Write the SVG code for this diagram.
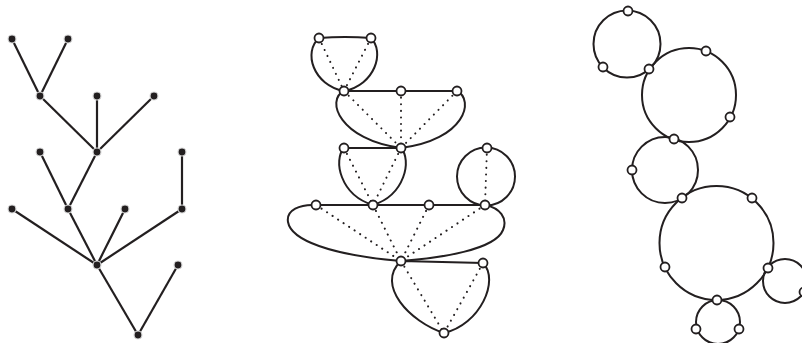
<svg xmlns="http://www.w3.org/2000/svg" width="802" height="343" viewBox="0 0 802 343">
<style>
.e{stroke:#231f20;stroke-width:2.2;fill:none}
.c{stroke:#231f20;stroke-width:2;fill:none}
.d{stroke:#231f20;stroke-width:2;fill:none;stroke-dasharray:0.1 6.5;stroke-linecap:round}
.b{fill:#231f20;stroke:#dddddd;stroke-width:1.2}
.w{fill:#ffffff;stroke:#231f20;stroke-width:1.8}
</style>
<rect width="802" height="343" fill="#ffffff"/>
<g id="connectors">
<g id="tree-edges">
<line class="e" x1="12" y1="39" x2="40" y2="96"/>
<line class="e" x1="68" y1="39" x2="40" y2="96"/>
<line class="e" x1="40" y1="96" x2="97" y2="152"/>
<line class="e" x1="97" y1="96" x2="97" y2="152"/>
<line class="e" x1="154" y1="96" x2="97" y2="152"/>
<line class="e" x1="40" y1="152" x2="68" y2="209"/>
<line class="e" x1="97" y1="152" x2="68" y2="209"/>
<line class="e" x1="182" y1="152" x2="182" y2="209"/>
<line class="e" x1="12" y1="209" x2="97" y2="265"/>
<line class="e" x1="68" y1="209" x2="97" y2="265"/>
<line class="e" x1="125" y1="209" x2="97" y2="265"/>
<line class="e" x1="182" y1="209" x2="97" y2="265"/>
<line class="e" x1="97" y1="265" x2="138" y2="335"/>
<line class="e" x1="178" y1="265" x2="138" y2="335"/>
</g>
<g id="blob-edges">
<path class="c" d="M319,38 Q345,36 371,38 C385,52 375,85 344,91 C313,85 303,52 319,38 Z"/>
<path class="c" d="M344,91 L457,91 C475,100 465,140 401,148 C340,140 325,100 344,91 Z"/>
<path class="c" d="M344,148 L401,148 C412,160 405,195 373,205 C340,195 333,160 344,148 Z"/>
<circle class="c" cx="486" cy="176.5" r="29"/>
<path class="c" d="M316,205 L485,205 C500,208 508,218 503,230 C495,250 440,258 401,261 C330,255 291,240 288,222 C286,210 300,204 316,205 Z"/>
<path class="c" d="M401,261 L483,263 C500,280 480,325 444,333 C410,322 375,285 401,261 Z"/>
<line class="d" x1="319" y1="38" x2="344" y2="91"/>
<line class="d" x1="371" y1="38" x2="344" y2="91"/>
<line class="d" x1="344" y1="91" x2="401" y2="148"/>
<line class="d" x1="401" y1="91" x2="401" y2="148"/>
<line class="d" x1="457" y1="91" x2="401" y2="148"/>
<line class="d" x1="344" y1="148" x2="373" y2="205"/>
<line class="d" x1="401" y1="148" x2="373" y2="205"/>
<line class="d" x1="487" y1="148" x2="485" y2="205"/>
<line class="d" x1="316" y1="205" x2="401" y2="261"/>
<line class="d" x1="373" y1="205" x2="401" y2="261"/>
<line class="d" x1="429" y1="205" x2="401" y2="261"/>
<line class="d" x1="485" y1="205" x2="401" y2="261"/>
<line class="d" x1="401" y1="261" x2="444" y2="333"/>
<line class="d" x1="483" y1="263" x2="444" y2="333"/>
</g>
<g id="circle-edges">
<circle class="c" cx="627" cy="44" r="33.5"/>
<circle class="c" cx="689" cy="95" r="47"/>
<circle class="c" cx="665" cy="170" r="33"/>
<circle class="c" cx="716.5" cy="243" r="57"/>
<circle class="c" cx="785" cy="281" r="22"/>
<circle class="c" cx="718" cy="322" r="22"/>
</g>
</g>
<g id="tree-nodes">
<circle id="t1" class="b" cx="12" cy="39" r="4"/>
<circle id="t2" class="b" cx="68" cy="39" r="4"/>
<circle id="t3" class="b" cx="40" cy="96" r="4"/>
<circle id="t4" class="b" cx="97" cy="96" r="4"/>
<circle id="t5" class="b" cx="154" cy="96" r="4"/>
<circle id="t6" class="b" cx="40" cy="152" r="4"/>
<circle id="t7" class="b" cx="97" cy="152" r="4"/>
<circle id="t8" class="b" cx="182" cy="152" r="4"/>
<circle id="t9" class="b" cx="12" cy="209" r="4"/>
<circle id="t10" class="b" cx="68" cy="209" r="4"/>
<circle id="t11" class="b" cx="125" cy="209" r="4"/>
<circle id="t12" class="b" cx="182" cy="209" r="4"/>
<circle id="t13" class="b" cx="97" cy="265" r="4"/>
<circle id="t14" class="b" cx="178" cy="265" r="4"/>
<circle id="t15" class="b" cx="138" cy="335" r="4"/>
</g>
<g id="blob-nodes">
<circle id="m1" class="w" cx="319" cy="38" r="4.5"/>
<circle id="m2" class="w" cx="371" cy="38" r="4.5"/>
<circle id="m3" class="w" cx="344" cy="91" r="4.5"/>
<circle id="m4" class="w" cx="401" cy="91" r="4.5"/>
<circle id="m5" class="w" cx="457" cy="91" r="4.5"/>
<circle id="m6" class="w" cx="344" cy="148" r="4.5"/>
<circle id="m7" class="w" cx="401" cy="148" r="4.5"/>
<circle id="m8" class="w" cx="487" cy="148" r="4.5"/>
<circle id="m9" class="w" cx="316" cy="205" r="4.5"/>
<circle id="m10" class="w" cx="373" cy="205" r="4.5"/>
<circle id="m11" class="w" cx="429" cy="205" r="4.5"/>
<circle id="m12" class="w" cx="485" cy="205" r="4.5"/>
<circle id="m13" class="w" cx="401" cy="261" r="4.5"/>
<circle id="m14" class="w" cx="483" cy="263" r="4.5"/>
<circle id="m15" class="w" cx="444" cy="333" r="4.5"/>
</g>
<g id="circle-nodes">
<circle id="r1" class="w" cx="628" cy="11" r="4.5"/>
<circle id="r2" class="w" cx="603" cy="67" r="4.5"/>
<circle id="r3" class="w" cx="649" cy="69" r="4.5"/>
<circle id="r4" class="w" cx="706" cy="51" r="4.5"/>
<circle id="r5" class="w" cx="730" cy="117" r="4.5"/>
<circle id="r6" class="w" cx="674" cy="139" r="4.5"/>
<circle id="r7" class="w" cx="632" cy="170" r="4.5"/>
<circle id="r8" class="w" cx="682" cy="198" r="4.5"/>
<circle id="r9" class="w" cx="752" cy="198" r="4.5"/>
<circle id="r10" class="w" cx="665" cy="267" r="4.5"/>
<circle id="r11" class="w" cx="768" cy="268" r="4.5"/>
<circle id="r12" class="w" cx="717" cy="300" r="4.5"/>
<circle id="r13" class="w" cx="696" cy="329" r="4.5"/>
<circle id="r14" class="w" cx="739" cy="329" r="4.5"/>
<circle id="r15" class="w" cx="804" cy="292" r="4.5"/>
</g>
</svg>
